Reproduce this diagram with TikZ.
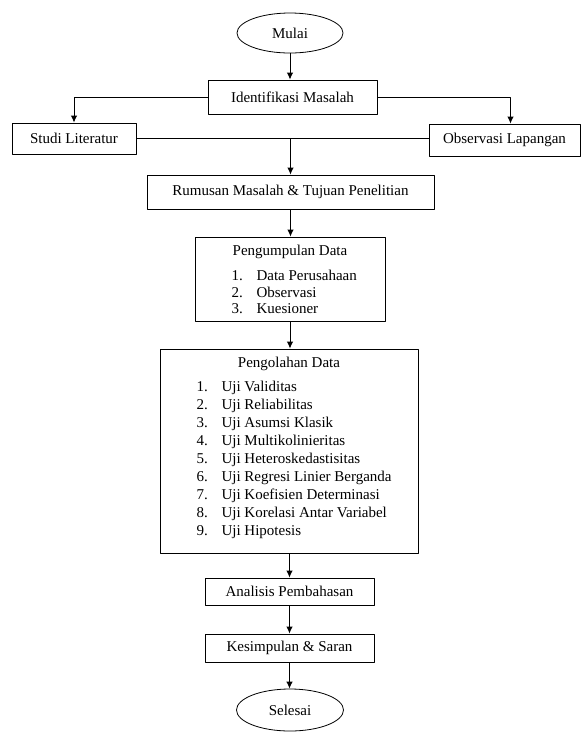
\documentclass[tikz,border=0pt]{standalone}
\usepackage{fontspec}
\setmainfont{Liberation Serif}
\usetikzlibrary{arrows.meta,shapes.geometric}

\begin{document}
\begin{tikzpicture}[line cap=round,line join=round,x=1pt,y=-1pt,
		font=\fontsize{15}{18}\selectfont,
		kotak/.style={draw,line width=0.9pt,inner sep=0pt},
		bulat/.style={draw,ellipse,line width=0.8pt,inner sep=0pt},
		panah/.style={-{Latex[length=7pt,width=6.5pt]},line width=0.9pt}]
				\useasboundingbox (0,0) rectangle (582,732);
				% Awal
				\node[bulat,minimum width=106pt,minimum height=40pt] (mulai) at (290,33) {Mulai};
				\node[kotak,minimum width=169pt,minimum height=34pt] (ident) at (292.5,97) {Identifikasi Masalah};
				\node[kotak,minimum width=124pt,minimum height=31pt] (studi) at (74,138.5) {Studi Literatur};
				\node[kotak,minimum width=151pt,minimum height=32pt] (obs) at (504.5,140) {Observasi Lapangan};
				\node[kotak,minimum width=287pt,minimum height=34pt] (rumus) at (290.5,192) {Rumusan Masalah \& Tujuan Penelitian};
				% Data
				\node[kotak,minimum width=190pt,minimum height=84pt] (kumpul) at (290,279) {};
				\node (kumpulj) at (290,252) {Pengumpulan Data};
				\node[anchor=north west,align=left,font=\fontsize{15}{16.5}\selectfont] (kumpuli) at (228,267) {%
					\makebox[25pt][l]{1.}Data Perusahaan\\
					\makebox[25pt][l]{2.}Observasi\\
					\makebox[25pt][l]{3.}Kuesioner};
				\node[kotak,minimum width=258pt,minimum height=204pt] (olah) at (289,451) {};
				\node (olahj) at (289,364) {Pengolahan Data};
				\node[anchor=north west,align=left] (olahi) at (193,378) {%
					\makebox[25pt][l]{1.}Uji Validitas\\
					\makebox[25pt][l]{2.}Uji Reliabilitas\\
					\makebox[25pt][l]{3.}Uji Asumsi Klasik\\
					\makebox[25pt][l]{4.}Uji Multikolinieritas\\
					\makebox[25pt][l]{5.}Uji Heteroskedastisitas\\
					\makebox[25pt][l]{6.}Uji Regresi Linier Berganda\\
					\makebox[25pt][l]{7.}Uji Koefisien Determinasi\\
					\makebox[25pt][l]{8.}Uji Korelasi Antar Variabel\\
					\makebox[25pt][l]{9.}Uji Hipotesis};
				% Akhir
				\node[kotak,minimum width=169pt,minimum height=27pt] (analisis) at (289.5,591.5) {Analisis Pembahasan};
				\node[kotak,minimum width=169pt,minimum height=28pt] (simpul) at (289.5,648) {Kesimpulan \& Saran};
				\node[bulat,minimum width=107pt,minimum height=42pt] (selesai) at (290,710) {Selesai};
				% Panah
				\draw[panah] (mulai.south) -- (mulai.south |- ident.north);
				\draw[panah] (ident.west) -| (studi.north);
				\draw[panah] (ident.east) -| ([xshift=6pt]obs.north);
				\draw[line width=0.9pt] (studi.east) -- (studi.east -| obs.west);
				\draw[panah] (studi.east -| rumus.north) -- (rumus.north);
				\draw[panah] (rumus.south) -- (rumus.south |- kumpul.north);
				\draw[panah] (kumpul.south) -- (kumpul.south |- olah.north);
				\draw[panah] (olah.south -| analisis.north) -- (analisis.north);
				\draw[panah] (analisis.south) -- (simpul.north);
				\draw[panah] (simpul.south) -- (simpul.south |- selesai.north);
		\end{tikzpicture}
\end{document}
